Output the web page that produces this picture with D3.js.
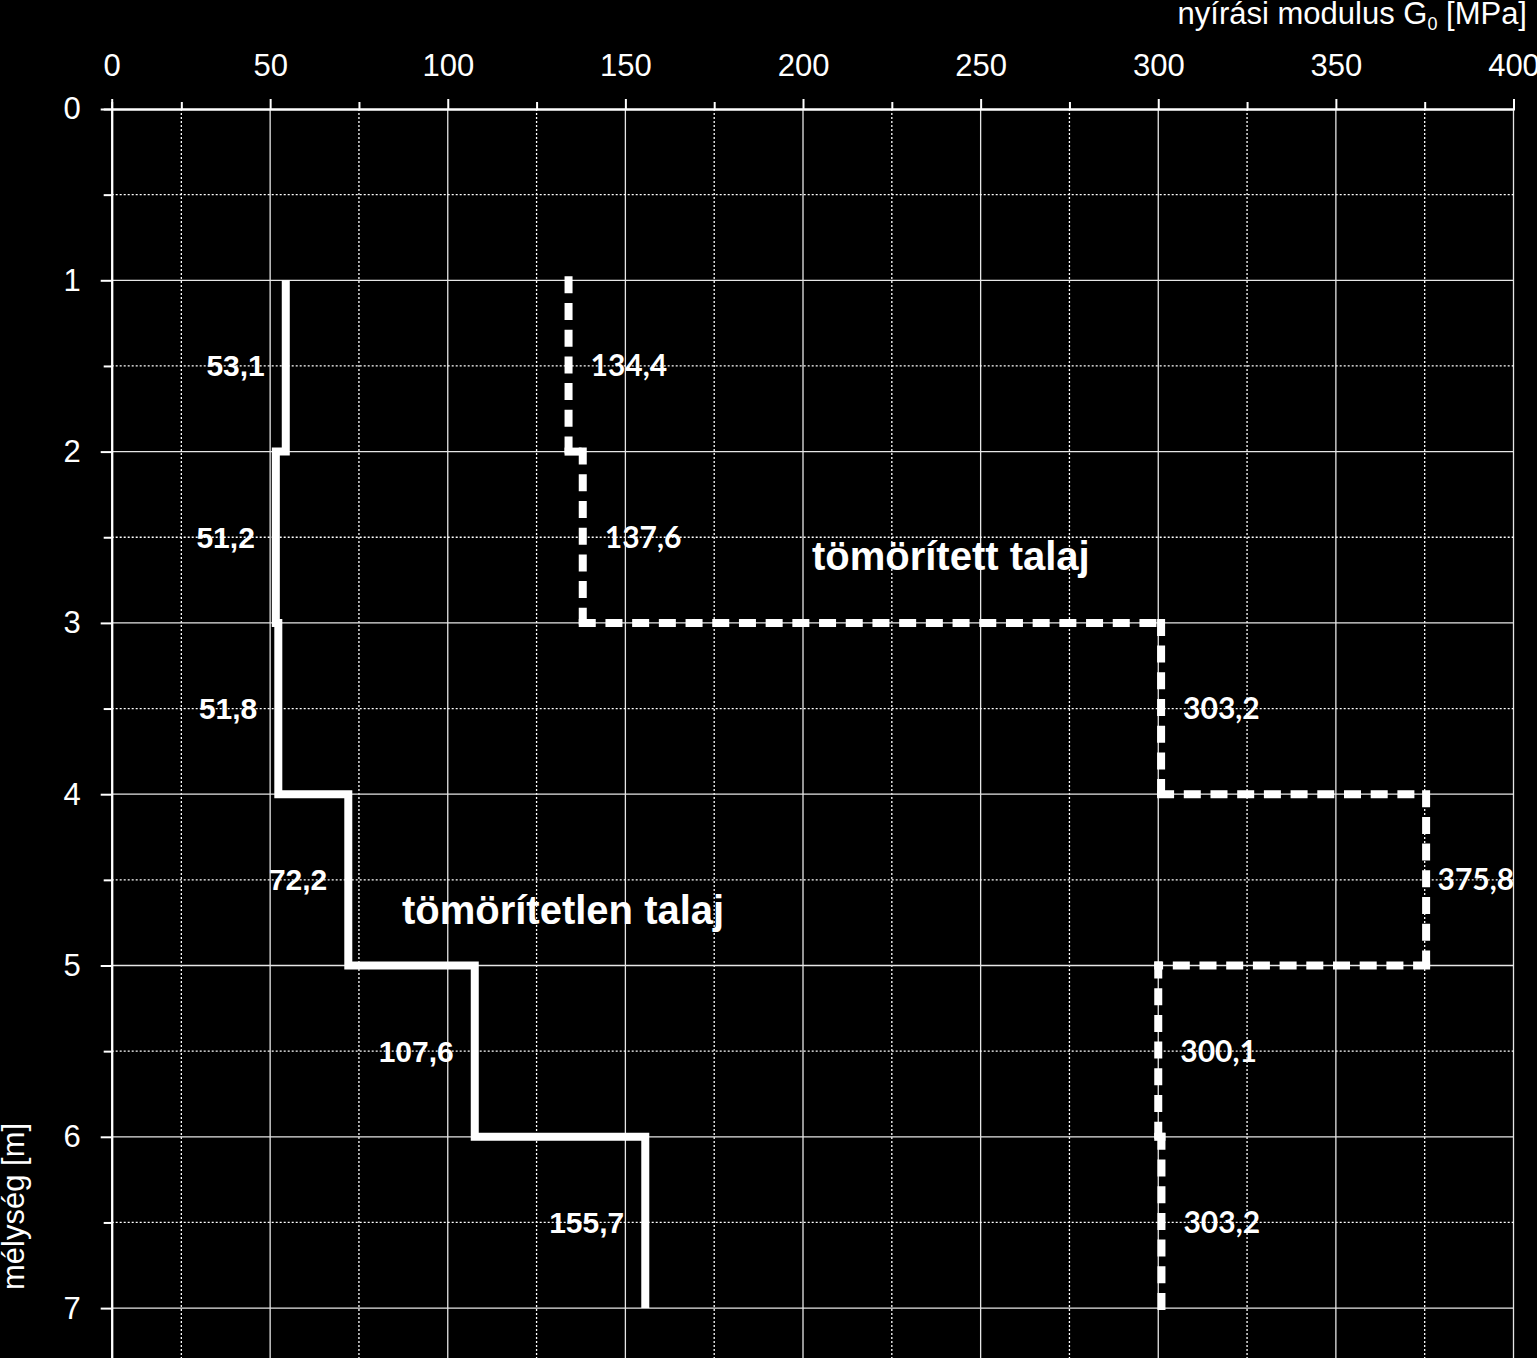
<!DOCTYPE html>
<html>
<head>
<meta charset="utf-8">
<script src="https://cdn.jsdelivr.net/npm/d3@7"></script>
<style>
  body { margin: 0; background: #000; }
  svg { display: block; }
</style>
</head>
<body>
<script>
// depth layers [m] and shear modulus G0 [MPa]

var layerTop = [1, 2, 3, 4, 5, 6];
var layerBottom = [2, 3, 4, 5, 6, 7];

var looseG = [54.4, 51.6, 52.3, 72.0, 107.6, 155.6];
var looseLabels = ["53,1", "51,2", "51,8", "72,2", "107,6", "155,7"];

var compactG = [134.0, 138.0, 300.8, 375.4, 300.0, 300.9];
var compactLabels = ["134,4", "137,6", "303,2", "375,8", "300,1", "303,2"];

var xTicks = [0, 50, 100, 150, 200, 250, 300, 350, 400];
var xMinor = [25, 75, 125, 175, 225, 275, 325, 375];
var yTicks = [0, 1, 2, 3, 4, 5, 6, 7];
var yMinor = [0.5, 1.5, 2.5, 3.5, 4.5, 5.5, 6.5];

var width = 1537;
var height = 1358;

var svg = d3.select("body")
  .append("svg")
  .attr("width", width)
  .attr("height", height)
  .style("background", "#000");

// excel put the value axis a bit right of zero, clamp keeps the "0" tick on the edge
var x = d3.scaleLinear()
  .domain([5.4, 400])
  .range([111.7, 1513.5])
  .clamp(true);

var y = d3.scaleLinear()
  .domain([0, 7.3])
  .range([109, 109 + 7.3 * 171.3]);

var axisFont = "'Liberation Sans', Arial, sans-serif";

// grid
var grid = svg.append("g");

grid.selectAll(".vmaj")
  .data(xTicks.slice(1))
  .enter()
  .append("line")
  .attr("x1", function(d) { return x(d); })
  .attr("x2", function(d) { return x(d); })
  .attr("y1", y(0))
  .attr("y2", height)
  .attr("stroke", "#e6e6e6")
  .attr("stroke-width", 1.3);

grid.selectAll(".vmin")
  .data(xMinor)
  .enter()
  .append("line")
  .attr("x1", function(d) { return x(d); })
  .attr("x2", function(d) { return x(d); })
  .attr("y1", y(0))
  .attr("y2", height)
  .attr("stroke", "#fff")
  .attr("stroke-width", 1.3)
  .attr("stroke-dasharray", "2,2");

grid.selectAll(".hmaj")
  .data(yTicks.slice(1))
  .enter()
  .append("line")
  .attr("x1", x(0))
  .attr("x2", x(400))
  .attr("y1", function(d) { return y(d); })
  .attr("y2", function(d) { return y(d); })
  .attr("stroke", "#e6e6e6")
  .attr("stroke-width", 1.3);

grid.selectAll(".hmin")
  .data(yMinor)
  .enter()
  .append("line")
  .attr("x1", x(0))
  .attr("x2", x(400))
  .attr("y1", function(d) { return y(d); })
  .attr("y2", function(d) { return y(d); })
  .attr("stroke", "#fff")
  .attr("stroke-width", 1.3)
  .attr("stroke-dasharray", "2,2");

// axes
function styleAxis(g) {
  g.select(".domain").attr("stroke", "#fff").attr("stroke-width", 2);
  g.selectAll(".tick line").attr("stroke", "#fff").attr("stroke-width", 2);
  g.selectAll(".tick text")
    .attr("fill", "#fff")
    .style("font-family", axisFont)
    .style("font-size", "31px");
}

svg.append("g")
  .attr("transform", "translate(0," + y(0) + ")")
  .call(d3.axisTop(x).tickValues(xMinor).tickSize(7).tickFormat(""))
  .call(styleAxis);

svg.append("g")
  .attr("transform", "translate(0," + y(0) + ")")
  .call(d3.axisTop(x).tickValues(xTicks).tickSize(10).tickSizeOuter(0).tickPadding(23))
  .call(styleAxis)
  .selectAll(".tick text")
  .attr("dy", "0em");

svg.append("g")
  .attr("transform", "translate(" + x(0) + ",0)")
  .call(d3.axisLeft(y).tickValues(yMinor).tickSize(8).tickFormat(""))
  .call(styleAxis);

svg.append("g")
  .attr("transform", "translate(" + x(0) + ",0)")
  .call(d3.axisLeft(y).tickValues(yTicks).tickSize(11).tickSizeOuter(0).tickPadding(20))
  .call(styleAxis);

// axis titles
var xTitle = svg.append("text")
  .attr("x", 1527)
  .attr("y", 24)
  .attr("text-anchor", "end")
  .attr("fill", "#fff")
  .style("font-family", axisFont)
  .style("font-size", "31px");
xTitle.append("tspan").text("nyírási modulus G");
xTitle.append("tspan").attr("dy", 6).style("font-size", "18px").text("0");
xTitle.append("tspan").attr("dy", -6).text(" [MPa]");

svg.append("text")
  .attr("transform", "translate(24,1290) rotate(-90)")
  .attr("fill", "#fff")
  .style("font-family", axisFont)
  .style("font-size", "31px")
  .text("mélység [m]");

// step profiles
function stepPath(vals) {
  var p = d3.path();
  p.moveTo(x(vals[0]), y(layerTop[0]));
  vals.forEach(function(v, i) {
    if (i > 0) p.lineTo(x(v), y(layerTop[i]));
    p.lineTo(x(v), y(layerBottom[i]));
  });
  return p.toString();
}

svg.append("path")
  .attr("d", stepPath(looseG))
  .attr("fill", "none")
  .attr("stroke", "#fff")
  .attr("stroke-width", 8)
  .attr("stroke-linejoin", "miter");

// dashed one: each segment restarts its dash, like excel does
var segs = [];
compactG.forEach(function(v, i) {
  if (i > 0) segs.push([compactG[i - 1], layerTop[i], v, layerTop[i]]);
  segs.push([v, layerTop[i], v, layerBottom[i]]);
});

svg.selectAll(".cseg")
  .data(segs)
  .enter()
  .append("line")
  .attr("x1", function(d) { return x(d[0]); })
  .attr("y1", function(d) { return y(d[1]); })
  .attr("x2", function(d) { return x(d[2]); })
  .attr("y2", function(d) { return y(d[3]); })
  .attr("stroke", "#fff")
  .attr("stroke-width", 8)
  .attr("stroke-linecap", "square")
  .attr("stroke-dasharray", "9,17.7");

// value labels
svg.selectAll(".llab")
  .data(looseG)
  .enter()
  .append("text")
  .attr("x", function(d) { return x(d) - 21; })
  .attr("y", function(d, i) { return y((layerTop[i] + layerBottom[i]) / 2); })
  .attr("dy", "0.35em")
  .attr("text-anchor", "end")
  .attr("fill", "#fff")
  .style("font-family", axisFont)
  .style("font-weight", "bold")
  .style("font-size", "30px")
  .text(function(d, i) { return looseLabels[i]; });

svg.selectAll(".clab")
  .data(compactG)
  .enter()
  .append("text")
  .attr("x", function(d) { return Math.min(x(d) + 22, x(400) - 76); })
  .attr("y", function(d, i) { return y((layerTop[i] + layerBottom[i]) / 2); })
  .attr("dy", "0.35em")
  .attr("fill", "#fff")
  .style("font-family", "Lato, 'Open Sans', sans-serif")
  .style("font-weight", "bold")
  .style("font-size", "30px")
  .text(function(d, i) { return compactLabels[i]; });

// series names
svg.append("text")
  .attr("x", x(87.1))
  .attr("y", y(4.76))
  .attr("fill", "#fff")
  .style("font-family", axisFont)
  .style("font-weight", "bold")
  .style("font-size", "40px")
  .text("tömörítetlen talaj");

svg.append("text")
  .attr("x", x(202.5))
  .attr("y", y(2.69))
  .attr("fill", "#fff")
  .style("font-family", axisFont)
  .style("font-weight", "bold")
  .style("font-size", "40px")
  .text("tömörített talaj");
</script>
</body>
</html>
